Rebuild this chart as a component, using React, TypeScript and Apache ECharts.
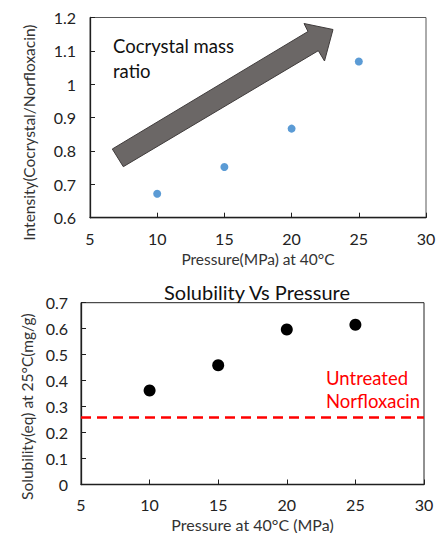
import React, { useEffect, useRef } from "react";
import * as echarts from "echarts";

const pressureTop = [10, 15, 20, 25];
const intensityRatio = [0.672, 0.752, 0.867, 1.068];
const pressureBottom = [10, 15, 20, 25];
const solubility = [0.362, 0.459, 0.597, 0.615];
const untreatedSolubility = 0.262;
const xTicks = { min: 5, max: 30, interval: 5 };
const topY = { min: 0.6, max: 1.2, interval: 0.1 };
const bottomY = { min: 0, max: 0.7, interval: 0.1 };

const FONT = "Lato";
const AXIS = "#1f1f1f";
const TXT = "#222";

export default function App() {
  const ref = useRef<HTMLDivElement>(null);
  useEffect(() => {
    const chart = echarts.init(ref.current!, null, { renderer: "svg" });
    const fmt = (v: number) => String(+v.toFixed(1));
    const axisCommon = {
      axisLine: { show: true, lineStyle: { color: AXIS, width: 1.3 } },
      axisTick: { show: true, inside: true, length: 5, lineStyle: { color: AXIS } },
      splitLine: { show: false },
    };
    chart.setOption({
      animation: false,
      textStyle: { fontFamily: FONT },
      title: {
        text: "Solubility Vs Pressure",
        left: 252,
        top: 277,
        textAlign: "center",
        textStyle: { fontFamily: FONT, fontSize: 20, fontWeight: "normal", color: "#111" },
      },
      grid: [
        { left: 90, top: 17.5, width: 336, height: 200.2, show: true, borderColor: "#595959", borderWidth: 1 },
        { left: 81, top: 302.7, width: 343, height: 185.6, show: true, borderColor: "#222", borderWidth: 1 },
      ],
      xAxis: [
        {
          gridIndex: 0, type: "value", ...xTicks, ...axisCommon,
          axisLabel: { fontFamily: FONT, fontSize: 16, color: TXT, margin: 13 },
          name: "Pressure(MPa) at 40°C", nameLocation: "middle", nameGap: 33,
          nameTextStyle: { fontFamily: FONT, fontSize: 15.5, color: "#333" },
        },
        {
          gridIndex: 1, type: "value", ...xTicks, ...axisCommon,
          axisLabel: { fontFamily: FONT, fontSize: 16, color: TXT, margin: 12 },
          name: "Pressure at 40°C (MPa)", nameLocation: "middle", nameGap: 31.5,
          nameTextStyle: { fontFamily: FONT, fontSize: 16, color: "#333" },
        },
      ],
      yAxis: [
        {
          gridIndex: 0, type: "value", ...topY, ...axisCommon,
          axisLabel: { fontFamily: FONT, fontSize: 16, color: TXT, margin: 14, formatter: fmt },
          name: "Intensity(Cocrystal/Norfloxacin)", nameLocation: "middle", nameGap: 53,
          nameTextStyle: { fontFamily: FONT, fontSize: 15.5, color: "#333", padding: [0, 30, 0, 0] },
        },
        {
          gridIndex: 1, type: "value", ...bottomY, ...axisCommon,
          axisLabel: { fontFamily: FONT, fontSize: 16, color: TXT, margin: 13, formatter: fmt },
          name: "Solubility(eq) at 25°C(mg/g)", nameLocation: "middle", nameGap: 46,
          nameTextStyle: { fontFamily: FONT, fontSize: 15.5, color: "#333", padding: [0, 26, 0, 0] },
        },
      ],
      series: [
        {
          type: "scatter", xAxisIndex: 0, yAxisIndex: 0,
          data: pressureTop.map((p, i) => [p, intensityRatio[i]]),
          symbolSize: 8, itemStyle: { color: "#5B9BD5", opacity: 1 },
        },
        {
          type: "scatter", xAxisIndex: 1, yAxisIndex: 1,
          data: pressureBottom.map((p, i) => [p, solubility[i]]),
          symbolSize: 12, itemStyle: { color: "#000", opacity: 1 },
          markLine: {
            silent: true, symbol: "none", label: { show: false },
            lineStyle: { color: "#FF0000", type: [10, 6], width: 2.5, opacity: 1 },
            data: [{ yAxis: untreatedSolubility }],
          },
        },
      ],
      graphic: [
        {
          type: "polygon",
          shape: {
            points: [
              [112.3, 149], [308, 31.5], [304, 23.5], [333, 29.5],
              [324.5, 61], [318.3, 50.7], [123.3, 166.7],
            ],
          },
          style: { fill: "#6b6766", stroke: "#403c3c", lineWidth: 1 },
        },
        {
          type: "text", left: 113, top: 33,
          style: {
            text: "Cocrystal mass\nratio", fontFamily: FONT, fontSize: 18.5,
            lineHeight: 25, fill: "#111",
          },
        },
        {
          type: "text", left: 326, top: 367,
          style: {
            text: "Untreated\nNorfloxacin", fontFamily: FONT, fontSize: 18.5,
            lineHeight: 22.5, fill: "#FF0000",
          },
        },
      ],
    });
    return () => chart.dispose();
  }, []);
  return (
    <div
      ref={ref}
      style={{ position: "fixed", left: 0, top: 0, width: 446, height: 533, background: "#fff" }}
    />
  );
}
